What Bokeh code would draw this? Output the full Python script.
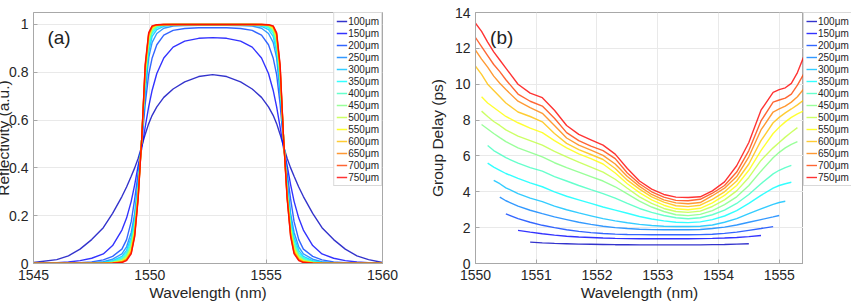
import numpy as np
from bokeh.plotting import figure
from bokeh.models import (Legend, LegendItem, FixedTicker, CustomJSTickFormatter,
                          Label, Range1d)
from bokeh.layouts import row
from bokeh.embed import file_html
from bokeh.resources import INLINE

# ---------------- data ----------------
lengths_um = [100, 150, 200, 250, 300, 350, 400, 450, 500, 550, 600, 650, 700, 750]
legend_labels = [f"{L}\u03bcm" for L in lengths_um]

# (a) reflectivity
refl_wavelength = [1545.0, 1546.0, 1546.5, 1547.0, 1547.5, 1548.0, 1548.4, 1548.8, 1549.0, 1549.2,
                   1549.35, 1549.5, 1549.65, 1549.8, 1549.95, 1550.1, 1550.3, 1550.6, 1551.0, 1551.5,
                   1552.1, 1552.7, 1553.3, 1553.9, 1554.4, 1554.8, 1555.1, 1555.3, 1555.45, 1555.6,
                   1555.75, 1555.9, 1556.05, 1556.2, 1556.4, 1556.6, 1557.0, 1557.4, 1557.9, 1558.4,
                   1558.9, 1559.4, 1560.0]
refl_100 = [0.004, 0.016, 0.032, 0.06, 0.10, 0.15, 0.21, 0.28, 0.32, 0.365, 0.40, 0.44, 0.49, 0.54, 0.585, 0.62, 0.655, 0.695, 0.73, 0.76, 0.782, 0.79,
            0.782, 0.76, 0.73, 0.695, 0.655, 0.62, 0.585, 0.54, 0.49, 0.44, 0.40, 0.365, 0.32, 0.28, 0.21, 0.15, 0.10, 0.06, 0.032, 0.016, 0.004]
refl_150 = [0.0, 0.003, 0.006, 0.012, 0.022, 0.04, 0.075, 0.14, 0.19, 0.26, 0.33, 0.41, 0.48, 0.57, 0.655, 0.725, 0.795, 0.86, 0.905, 0.93, 0.942, 0.945,
            0.942, 0.93, 0.905, 0.86, 0.795, 0.725, 0.655, 0.57, 0.48, 0.41, 0.33, 0.26, 0.19, 0.14, 0.075, 0.04, 0.022, 0.012, 0.006, 0.003, 0.0]
refl_200 = [0.0, 0.0, 0.001, 0.003, 0.007, 0.015, 0.03, 0.06, 0.1, 0.175, 0.27, 0.38, 0.5, 0.665, 0.79, 0.86, 0.915, 0.955, 0.975, 0.983, 0.986, 0.986,
            0.986, 0.983, 0.975, 0.955, 0.915, 0.86, 0.79, 0.665, 0.5, 0.38, 0.27, 0.175, 0.1, 0.06, 0.03, 0.015, 0.007, 0.003, 0.001, 0.0, 0.0]
refl_250 = [0, 0, 0, 0.001, 0.003, 0.008, 0.018, 0.04, 0.07, 0.13, 0.21, 0.35, 0.51, 0.71, 0.86, 0.925, 0.962, 0.984, 0.993, 0.995, 0.996, 0.996,
            0.996, 0.995, 0.993, 0.984, 0.962, 0.925, 0.86, 0.71, 0.51, 0.35, 0.21, 0.13, 0.07, 0.04, 0.018, 0.008, 0.003, 0.001, 0, 0, 0]
refl_300 = [0, 0, 0, 0, 0.002, 0.005, 0.012, 0.03, 0.055, 0.11, 0.19, 0.33, 0.52, 0.735, 0.885, 0.95, 0.978, 0.992, 0.997, 0.998, 0.999, 0.999,
            0.999, 0.998, 0.997, 0.992, 0.978, 0.95, 0.885, 0.735, 0.52, 0.33, 0.19, 0.11, 0.055, 0.03, 0.012, 0.005, 0.002, 0, 0, 0, 0]
refl_350 = [0, 0, 0, 0, 0.001, 0.003, 0.009, 0.024, 0.045, 0.095, 0.175, 0.32, 0.52, 0.755, 0.905, 0.963, 0.986, 0.996, 0.999, 1.0, 1.0, 1.0,
            1.0, 1.0, 0.999, 0.996, 0.986, 0.963, 0.905, 0.755, 0.52, 0.32, 0.175, 0.095, 0.045, 0.024, 0.009, 0.003, 0.001, 0, 0, 0, 0]
refl_400 = [0, 0, 0, 0, 0.001, 0.002, 0.007, 0.019, 0.037, 0.083, 0.163, 0.31, 0.52, 0.77, 0.92, 0.972, 0.991, 0.998, 1, 1, 1, 1,
            1, 1, 1, 0.998, 0.991, 0.972, 0.92, 0.77, 0.52, 0.31, 0.163, 0.083, 0.037, 0.019, 0.007, 0.002, 0.001, 0, 0, 0, 0]
refl_450 = [0, 0, 0, 0, 0, 0.001, 0.005, 0.015, 0.031, 0.073, 0.152, 0.3, 0.52, 0.785, 0.93, 0.978, 0.994, 0.999, 1, 1, 1, 1,
            1, 1, 1, 0.999, 0.994, 0.978, 0.93, 0.785, 0.52, 0.3, 0.152, 0.073, 0.031, 0.015, 0.005, 0.001, 0, 0, 0, 0, 0]
refl_500 = [0, 0, 0, 0, 0, 0.001, 0.004, 0.012, 0.026, 0.065, 0.143, 0.295, 0.52, 0.795, 0.94, 0.983, 0.996, 0.999, 1, 1, 1, 1,
            1, 1, 1, 0.999, 0.996, 0.983, 0.94, 0.795, 0.52, 0.295, 0.143, 0.065, 0.026, 0.012, 0.004, 0.001, 0, 0, 0, 0, 0]
refl_550 = [0, 0, 0, 0, 0, 0.001, 0.003, 0.01, 0.022, 0.058, 0.135, 0.29, 0.52, 0.805, 0.947, 0.986, 0.997, 1, 1, 1, 1, 1,
            1, 1, 1, 1, 0.997, 0.986, 0.947, 0.805, 0.52, 0.29, 0.135, 0.058, 0.022, 0.01, 0.003, 0.001, 0, 0, 0, 0, 0]
refl_600 = [0, 0, 0, 0, 0, 0, 0.002, 0.008, 0.019, 0.052, 0.128, 0.285, 0.52, 0.813, 0.953, 0.989, 0.998, 1, 1, 1, 1, 1,
            1, 1, 1, 1, 0.998, 0.989, 0.953, 0.813, 0.52, 0.285, 0.128, 0.052, 0.019, 0.008, 0.002, 0, 0, 0, 0, 0, 0]
refl_650 = [0, 0, 0, 0, 0, 0, 0.002, 0.006, 0.016, 0.047, 0.122, 0.28, 0.52, 0.82, 0.958, 0.991, 0.998, 1, 1, 1, 1, 1,
            1, 1, 1, 1, 0.998, 0.991, 0.958, 0.82, 0.52, 0.28, 0.122, 0.047, 0.016, 0.006, 0.002, 0, 0, 0, 0, 0, 0]
refl_700 = [0, 0, 0, 0, 0, 0, 0.001, 0.005, 0.014, 0.043, 0.117, 0.276, 0.52, 0.826, 0.962, 0.993, 0.999, 1, 1, 1, 1, 1,
            1, 1, 1, 1, 0.999, 0.993, 0.962, 0.826, 0.52, 0.276, 0.117, 0.043, 0.014, 0.005, 0.001, 0, 0, 0, 0, 0, 0]
refl_750 = [0, 0, 0, 0, 0, 0, 0.001, 0.004, 0.012, 0.04, 0.112, 0.272, 0.52, 0.832, 0.966, 0.994, 0.999, 1, 1, 1, 1, 1,
            1, 1, 1, 1, 0.999, 0.994, 0.966, 0.832, 0.52, 0.272, 0.112, 0.04, 0.012, 0.004, 0.001, 0, 0, 0, 0, 0, 0]

# (b) group delay (ps); None where the curve is not drawn
gd_wavelength = [1550.0, 1550.1, 1550.2, 1550.3, 1550.4, 1550.5, 1550.7, 1550.9, 1551.1, 1551.3,
                 1551.5, 1551.7, 1551.9, 1552.1, 1552.3, 1552.5, 1552.7, 1552.9, 1553.1, 1553.3,
                 1553.5, 1553.7, 1553.9, 1554.1, 1554.3, 1554.5, 1554.7, 1554.9, 1555.0, 1555.1,
                 1555.2, 1555.3, 1555.4]
N = None
gd_100 = [N, N, N, N, N, N, N, 1.19, 1.15, 1.12, 1.10, 1.08, 1.07, 1.06, 1.05, 1.05, 1.04, 1.04, 1.04, 1.04,
          1.04, 1.04, 1.05, 1.06, 1.08, 1.10, N, N, N, N, N, N, N]
gd_150 = [N, N, N, N, N, N, 1.85, 1.75, 1.66, 1.58, 1.52, 1.48, 1.45, 1.42, 1.40, 1.39, 1.38, 1.38, 1.38, 1.38,
          1.38, 1.39, 1.40, 1.42, 1.45, 1.50, 1.56, N, N, N, N, N, N]
gd_200 = [N, N, N, N, N, 2.77, 2.50, 2.30, 2.13, 2.00, 1.88, 1.79, 1.72, 1.67, 1.64, 1.62, 1.61, 1.60, 1.60, 1.60,
          1.60, 1.61, 1.63, 1.68, 1.75, 1.85, 1.95, 2.06, N, N, N, N, N]
gd_250 = [N, N, N, N, 3.70, 3.50, 3.20, 2.97, 2.78, 2.60, 2.45, 2.30, 2.18, 2.08, 2.00, 1.95, 1.91, 1.89, 1.88, 1.88,
          1.88, 1.90, 1.95, 2.03, 2.15, 2.30, 2.45, 2.60, 2.68, N, N, N, N]
gd_300 = [N, N, N, 4.63, 4.45, 4.22, 3.90, 3.65, 3.45, 3.20, 3.00, 2.82, 2.66, 2.50, 2.38, 2.27, 2.18, 2.12, 2.08, 2.06,
          2.06, 2.08, 2.15, 2.30, 2.50, 2.78, 3.05, 3.30, 3.40, 3.47, N, N, N]
gd_350 = [N, N, 5.60, 5.38, 5.20, 5.02, 4.75, 4.50, 4.28, 4.00, 3.75, 3.55, 3.35, 3.15, 2.98, 2.80, 2.62, 2.48, 2.38, 2.30,
          2.28, 2.32, 2.45, 2.65, 2.95, 3.35, 3.80, 4.20, 4.35, 4.45, 4.53, N, N]
gd_400 = [N, N, 6.58, 6.30, 6.10, 5.90, 5.60, 5.35, 5.15, 4.85, 4.60, 4.35, 4.12, 3.90, 3.65, 3.35, 3.07, 2.85, 2.68, 2.55,
          2.50, 2.55, 2.72, 2.98, 3.35, 3.85, 4.45, 5.00, 5.20, 5.35, 5.47, N, N]
gd_450 = [N, 7.75, 7.50, 7.25, 7.02, 6.80, 6.45, 6.20, 5.95, 5.62, 5.35, 5.10, 4.85, 4.60, 4.28, 3.88, 3.48, 3.15, 2.90, 2.72,
          2.67, 2.74, 2.95, 3.28, 3.72, 4.35, 5.15, 5.90, 6.20, 6.45, 6.65, 6.80, N]
gd_500 = [N, 8.50, 8.20, 7.92, 7.70, 7.45, 7.10, 6.85, 6.60, 6.25, 5.95, 5.65, 5.38, 5.10, 4.70, 4.20, 3.72, 3.35, 3.07, 2.90,
          2.85, 2.92, 3.18, 3.55, 4.05, 4.80, 5.75, 6.45, 6.75, 7.05, 7.32, 7.58, N]
gd_550 = [N, 9.30, 8.95, 8.70, 8.45, 8.20, 7.85, 7.55, 7.30, 6.85, 6.45, 6.12, 5.85, 5.55, 5.05, 4.45, 3.95, 3.55, 3.25, 3.05,
          3.00, 3.08, 3.38, 3.80, 4.35, 5.20, 6.30, 7.25, 7.60, 7.90, 8.15, 8.35, 8.50]
gd_600 = [11.0, 10.55, 10.0, 9.65, 9.30, 8.95, 8.45, 8.20, 7.90, 7.25, 6.70, 6.35, 6.08, 5.80, 5.30, 4.65, 4.15, 3.72, 3.42, 3.22,
          3.17, 3.25, 3.58, 4.00, 4.60, 5.55, 6.85, 7.85, 8.15, 8.40, 8.62, 8.85, 9.10]
gd_650 = [11.9, 11.4, 10.95, 10.45, 10.05, 9.70, 9.05, 8.70, 8.38, 7.70, 7.00, 6.60, 6.32, 6.03, 5.55, 4.85, 4.30, 3.85, 3.55, 3.38,
          3.33, 3.40, 3.78, 4.20, 4.85, 5.95, 7.45, 8.45, 8.62, 8.78, 9.00, 9.30, 9.72]
gd_700 = [12.6, 12.1, 11.6, 11.1, 10.7, 10.25, 9.45, 9.05, 8.78, 8.10, 7.30, 6.85, 6.55, 6.30, 5.85, 5.05, 4.45, 4.00, 3.70, 3.52,
          3.50, 3.58, 3.92, 4.35, 5.10, 6.30, 7.95, 9.00, 9.12, 9.22, 9.45, 9.95, 10.55]
gd_750 = [13.4, 12.95, 12.35, 11.8, 11.35, 10.9, 10.0, 9.5, 9.25, 8.55, 7.7, 7.2, 6.9, 6.6, 6.1, 5.3, 4.6, 4.15, 3.85, 3.7,
          3.68, 3.72, 4.05, 4.55, 5.45, 6.75, 8.55, 9.55, 9.7, 9.8, 10.05, 10.65, 11.5]

refl_series = [refl_100, refl_150, refl_200, refl_250, refl_300, refl_350, refl_400,
               refl_450, refl_500, refl_550, refl_600, refl_650, refl_700, refl_750]
gd_series = [gd_100, gd_150, gd_200, gd_250, gd_300, gd_350, gd_400,
             gd_450, gd_500, gd_550, gd_600, gd_650, gd_700, gd_750]

x_ticks_a = [1545, 1550, 1555, 1560]
y_ticks_a = [0, 0.2, 0.4, 0.6, 0.8, 1]
x_ticks_b = [1550, 1551, 1552, 1553, 1554, 1555]
y_ticks_b = [0, 2, 4, 6, 8, 10, 12, 14]

# ---------------- style ----------------
FONT = "Liberation Sans"
TXT = "#262626"
BOX = "#a8a8a8"
JET = ["#0000bf", "#0000ff", "#0040ff", "#0080ff", "#00bfff", "#00ffff", "#40ffbf",
       "#80ff80", "#bfff40", "#ffff00", "#ffbf00", "#ff8000", "#ff4000", "#ff0000"]


def style_axes(p, xt, yt):
    p.xaxis.ticker = FixedTicker(ticks=xt)
    p.yaxis.ticker = FixedTicker(ticks=yt)
    p.yaxis.formatter = CustomJSTickFormatter(code="return tick.toString();")
    p.xaxis.formatter = CustomJSTickFormatter(code="return tick.toString();")
    for ax in (p.xaxis, p.yaxis):
        ax.major_label_text_font = FONT
        ax.major_label_text_font_size = "14px"
        ax.major_label_text_color = TXT
        ax.axis_label_text_font = FONT
        ax.axis_label_text_font_size = "15.5px"
        ax.axis_label_text_font_style = "normal"
        ax.axis_label_text_color = TXT
        ax.axis_line_color = BOX
        ax.major_tick_line_color = BOX
        ax.major_tick_in = 4
        ax.major_tick_out = 0
        ax.minor_tick_line_color = None
    p.xaxis.major_label_standoff = 6
    p.xaxis.axis_label_standoff = 1
    p.yaxis.major_label_standoff = 5
    p.outline_line_color = BOX
    p.outline_line_alpha = 1
    p.grid.grid_line_color = "#e9e9e9"
    p.background_fill_color = "white"
    p.border_fill_color = "white"


def style_legend(lg):
    lg.label_text_font = FONT
    lg.label_text_font_size = "10px"
    lg.label_text_color = TXT
    lg.glyph_width = 11
    lg.glyph_height = 12
    lg.label_height = 12
    lg.label_standoff = 1
    lg.spacing = 0
    lg.padding = 2
    lg.margin = 0
    lg.border_line_color = "#b4b4b4"
    lg.background_fill_alpha = 1


# ---------------- (a) ----------------
pa = figure(width=425, height=304, x_range=Range1d(1545, 1560), y_range=Range1d(0, 1.05),
            output_backend="svg", toolbar_location=None,
            min_border_left=33, min_border_right=43, min_border_top=12, min_border_bottom=41)
style_axes(pa, x_ticks_a, y_ticks_a)
pa.xaxis.axis_label = "Wavelength (nm)"
items_a = []
for lab, ys, col in zip(legend_labels, refl_series, JET):
    r = pa.line(refl_wavelength, np.array(ys, dtype=float), line_color=col, line_width=1.4, line_alpha=0.8)
    items_a.append(LegendItem(label=lab, renderers=[r]))
lg_a = Legend(items=items_a, location="top_right")
style_legend(lg_a)
pa.add_layout(lg_a)
# y-axis title of (a): hosted in the (otherwise empty) right border so it does not
# widen the left border; drawn at the very left edge of the canvas, partly cut as in the original
pa.add_layout(Label(x=-379, y=125.5, x_units="screen", y_units="screen", text="Reflectivity (a.u.)",
                    angle=np.pi / 2, text_align="center", text_baseline="alphabetic",
                    text_font=FONT, text_font_size="15.5px", text_color=TXT), "right")
pa.add_layout(Label(x=1545.6, y=0.99, text="(a)", text_baseline="top", text_align="left",
                    text_font=FONT, text_font_size="19px", text_color="#222222"))

# ---------------- (b) ----------------
pb = figure(width=378, height=304, x_range=Range1d(1550, 1555.4), y_range=Range1d(0, 14),
            output_backend="svg", toolbar_location=None,
            min_border_left=45, min_border_right=0, min_border_top=12, min_border_bottom=41)
style_axes(pb, x_ticks_b, y_ticks_b)
pb.xaxis.axis_label = "Wavelength (nm)"
pb.yaxis.axis_label = "Group Delay (ps)"
pb.yaxis.axis_label_standoff = 6
for ys, col in zip(gd_series, JET):
    pb.line(gd_wavelength, np.array(ys, dtype=float), line_color=col, line_width=1.4, line_alpha=0.8)
pb.add_layout(Label(x=1550.24, y=13.2, text="(b)", text_baseline="top", text_align="left",
                    text_font=FONT, text_font_size="19px", text_color="#222222"))

# legend of (b) sits just outside its frame: a narrow legend-only panel
pc = figure(width=48, height=304, x_range=Range1d(0, 1), y_range=Range1d(0, 1),
            output_backend="svg", toolbar_location=None,
            min_border_left=0, min_border_right=0, min_border_top=12, min_border_bottom=0)
pc.axis.visible = False
pc.grid.visible = False
pc.outline_line_color = None
items_b = []
for lab, ys, col in zip(legend_labels, gd_series, JET):
    r = pc.line(gd_wavelength, np.array(ys, dtype=float), line_color=col, line_width=1.4, line_alpha=0.8)
    items_b.append(LegendItem(label=lab, renderers=[r]))
lg_b = Legend(items=items_b, location="top_left")
style_legend(lg_b)
pc.add_layout(lg_b)

layout = row(pa, pb, pc)
open("out.html", "w").write(file_html(layout, INLINE))
